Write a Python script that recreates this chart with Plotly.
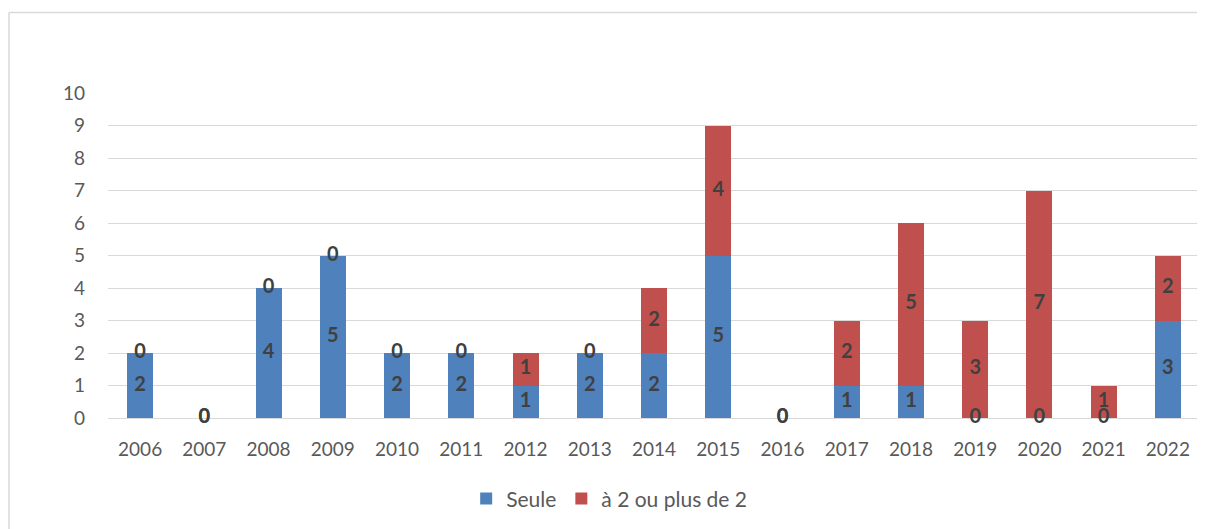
import plotly.graph_objects as go

years = ["2006", "2007", "2008", "2009", "2010", "2011", "2012", "2013", "2014",
         "2015", "2016", "2017", "2018", "2019", "2020", "2021", "2022"]
seule = [2, 0, 4, 5, 2, 2, 1, 2, 2, 5, 0, 1, 1, 0, 0, 0, 3]
plus2 = [0, 0, 0, 0, 0, 0, 1, 0, 2, 4, 0, 2, 5, 3, 7, 1, 2]
y_ticks = list(range(0, 11))

BLUE = "#4f81bd"
RED = "#c0504d"
FONT = "Lato"

fig = go.Figure()
fig.add_trace(go.Bar(x=years, y=seule, name="Seule", marker=dict(color=BLUE, line=dict(width=0))))
fig.add_trace(go.Bar(x=years, y=plus2, name="à 2 ou plus de 2", marker=dict(color=RED, line=dict(width=0))))

# data labels centred in each segment (zero segments at their stack position)
lab_x, lab_y, lab_t = [], [], []
for yr, b, r in zip(years, seule, plus2):
    lab_x += [yr, yr]
    lab_y += [b / 2, b + r / 2]
    lab_t += [str(b), str(r)]
fig.add_trace(go.Scatter(x=lab_x, y=lab_y, text=lab_t, mode="text", showlegend=False,
                         textposition="middle center", cliponaxis=False, hoverinfo="skip",
                         textfont=dict(family=FONT, size=20, color="#404040", weight="bold")))

PW = 1092.0
PH = 325.0
fig.update_layout(
    width=1197, height=521,
    barmode="stack", bargap=0.595,
    margin=dict(l=100, r=5, t=85, b=111),
    paper_bgcolor="white", plot_bgcolor="white",
    font=dict(family=FONT, size=19, color="#595959"),
    showlegend=True,
    legend=dict(orientation="h", x=0.328, xanchor="left", y=-0.249, yanchor="middle",
                font=dict(family=FONT, size=21, color="#595959"), itemwidth=30,
                traceorder="normal"),
    xaxis=dict(type="category", range=[-0.5, len(years) - 0.5], showgrid=False, showline=False, ticks="",
               ticklabelstandoff=18, tickfont=dict(size=19, color="#595959")),
    yaxis=dict(range=[0, 10], tickvals=y_ticks, showgrid=True, gridcolor="#d9d9d9", gridwidth=1.3,
               zeroline=True, zerolinecolor="#d9d9d9", zerolinewidth=1.3, showline=False,
               ticks="", ticklabelstandoff=22, tickfont=dict(size=19, color="#595959")),
    shapes=[
        dict(type="line", xref="paper", yref="paper", x0=-99/PW, x1=1.02, y0=1 + 80.5/PH, y1=1 + 80.5/PH,
             line=dict(color="#d9d9d9", width=1.5)),
        dict(type="line", xref="paper", yref="paper", x0=-99/PW, x1=-99/PW, y0=1 + 80.5/PH, y1=-0.4,
             line=dict(color="#d9d9d9", width=1.5)),
    ],
)

fig.write_html("out.html")
